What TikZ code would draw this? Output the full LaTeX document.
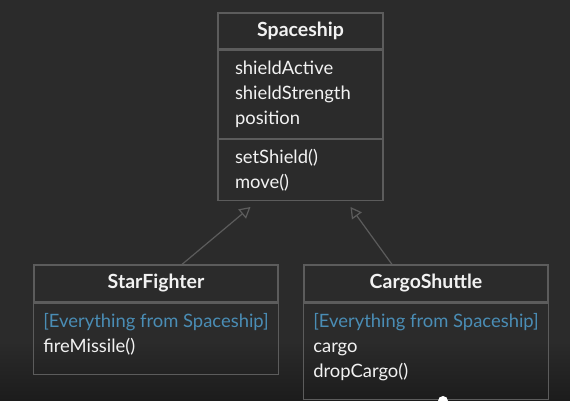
\documentclass[tikz,border=0pt]{standalone}
\usepackage{fontspec}
\setmainfont{Lato}
\usetikzlibrary{arrows.meta,positioning}

\definecolor{bgdark}{HTML}{2B2B2B}
\definecolor{bgfoot}{HTML}{1C1C1C}
\definecolor{boxline}{HTML}{5C5C5C}
\definecolor{textwhite}{HTML}{F2F2F2}
\definecolor{inheritblue}{HTML}{4A8DB5}

\tikzset{
  classtitle/.style={rectangle, draw=boxline, line width=1.2pt, text=textwhite,
    font=\fontsize{19.5}{25}\selectfont\bfseries, inner sep=0pt, minimum height=37pt},
  classbody/.style={rectangle, draw=boxline, line width=1.2pt, text=textwhite,
    font=\fontsize{18.4}{25}\selectfont, align=left, inner xsep=10pt, inner ysep=0pt},
  inherit/.style={draw=boxline, line width=1.2pt,
    -{Triangle[open, length=11pt, width=12pt]}}
}

\begin{document}
\begin{tikzpicture}[x=1pt, y=1pt]
\useasboundingbox (0,0) rectangle (570,401);
\fill[bgdark] (0,0) rectangle (570,401);
\shade[top color=bgdark, bottom color=bgfoot] (0,0) rectangle (570,60);

% superclass
\node (shiptitle) [classtitle, minimum width=165pt, minimum height=36pt] at (300.5,370) {Spaceship};
\node (shipattr) [classbody, below=0pt of shiptitle, text width=131pt, minimum height=88pt, inner xsep=17pt] {shieldActive\\shieldStrength\\position};
\node (shipmeth) [classbody, below=0pt of shipattr, text width=131pt, minimum height=61pt, inner xsep=17pt] {setShield()\\move()};

% subclasses
\node (fightertitle) [classtitle, minimum width=244pt] at (156,117.5) {StarFighter};
\node (fighterbody) [classbody, below=0pt of fightertitle, minimum width=244pt, minimum height=71pt, text depth=11pt] {\textcolor{inheritblue}{[Everything from Spaceship]}\\fireMissile()};
\node (cargotitle) [classtitle, minimum width=244pt] at (426,117.5) {CargoShuttle};
\node (cargobody) [classbody, below=0pt of cargotitle, minimum width=244pt, minimum height=96pt, text depth=11pt] {\textcolor{inheritblue}{[Everything from Spaceship]}\\cargo\\dropCargo()};

\coordinate (fighterin) at ([xshift=-50pt, yshift=-6pt]shipmeth.south);
\coordinate (cargoin) at ([xshift=50pt, yshift=-6pt]shipmeth.south);

\draw [inherit] ([xshift=26pt]fightertitle.north) -- (fighterin);
\draw [inherit] ([xshift=-34pt]cargotitle.north) -- (cargoin);

% video scrubber
\node (scrub) [circle, fill=white, inner sep=0pt, minimum size=10pt] at (443,0) {};
\end{tikzpicture}
\end{document}
